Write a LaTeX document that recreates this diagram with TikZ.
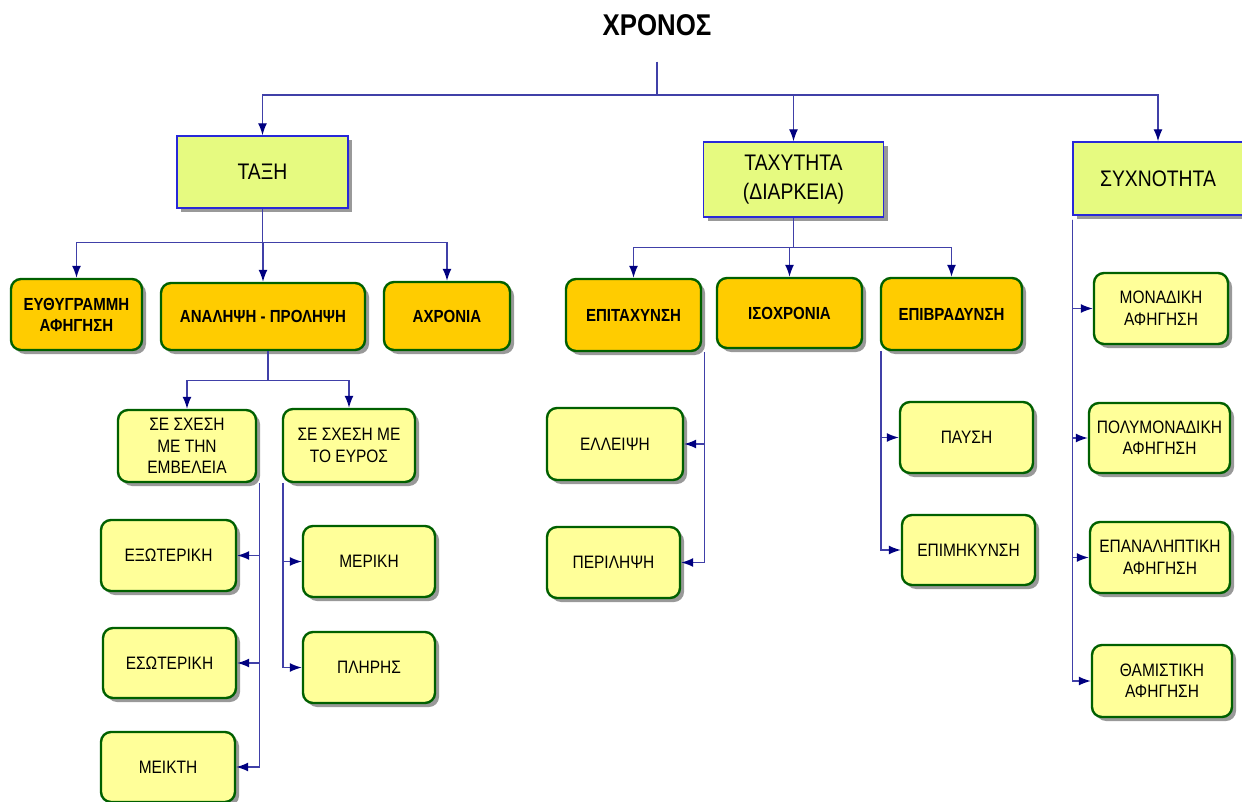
\documentclass[tikz,border=0pt]{standalone}
\usepackage{fontspec}
\setmainfont{Liberation Sans}[FakeStretch=0.86]
\usetikzlibrary{arrows.meta,shadows}
\definecolor{lineblue}{RGB}{64,64,168}
\definecolor{arrnavy}{RGB}{0,0,128}
\definecolor{limefill}{RGB}{230,250,128}
\definecolor{bordblue}{RGB}{40,40,216}
\definecolor{orangef}{RGB}{255,204,0}
\definecolor{dgreen}{RGB}{0,96,0}
\definecolor{yellf}{RGB}{255,255,153}
\tikzset{
  conn/.style={draw=lineblue, line width=1.4pt, -{Latex[length=12pt,width=9pt,color=arrnavy]}},
  shad/.style={drop shadow={shadow xshift=4pt,shadow yshift=-4pt,fill=black!40,opacity=1}},
  mainbox/.style={draw=bordblue, line width=1.4pt, fill=limefill, shad, align=center,
     font=\fontsize{22.5}{29}\selectfont, inner sep=0pt},
  obox/.style={draw=dgreen, line width=2.4pt, fill=orangef, rounded corners=10pt, shad, align=center,
     font=\bfseries\fontsize{17.5}{21}\selectfont, inner sep=0pt},
  ybox/.style={draw=dgreen, line width=2.4pt, fill=yellf, rounded corners=10pt, shad, align=center,
     font=\fontsize{18}{21.5}\selectfont, inner sep=0pt},
  sz/.style 2 args={minimum width=#1pt, minimum height=#2pt}
}
\begin{document}
\begin{tikzpicture}[x=1pt,y=-1pt]
\fill[white] (0,0) rectangle (1242,802);
\useasboundingbox (0,0) rectangle (1242,802);

\node[font=\bfseries\fontsize{30}{34}\selectfont] (title) at (657,25) {ΧΡΟΝΟΣ};
\coordinate (tb) at (657,62);

% level 1
\node[mainbox, sz={171}{72}] (tax) at (262.5,172) {ΤΑΞΗ};
\node[mainbox, sz={180}{75}] (tach) at (793.5,179.5) {ΤΑΧΥΤΗΤΑ\\(ΔΙΑΡΚΕΙΑ)};
\node[mainbox, sz={170}{73}] (syx) at (1158,178.5) {ΣΥΧΝΟΤΗΤΑ};

% level 2 (orange)
\node[obox, sz={131}{71}] (euth) at (76.5,314.5) {ΕΥΘΥΓΡΑΜΜΗ\\ΑΦΗΓΗΣΗ};
\node[obox, sz={204}{67}] (anal) at (263,316.5) {ΑΝΑΛΗΨΗ - ΠΡΟΛΗΨΗ};
\node[obox, sz={126}{68}] (axr) at (447,316) {ΑΧΡΟΝΙΑ};
\node[obox, sz={135}{72}] (epit) at (633.5,315) {ΕΠΙΤΑΧΥΝΣΗ};
\node[obox, sz={145}{70}] (iso) at (789.5,313) {ΙΣΟΧΡΟΝΙΑ};
\node[obox, sz={141}{72}] (epib) at (951.5,314) {ΕΠΙΒΡΑΔΥΝΣΗ};

% level 3 (yellow)
\node[ybox, sz={138}{72}] (emb) at (187,446) {ΣΕ ΣΧΕΣΗ\\ΜΕ ΤΗΝ\\ΕΜΒΕΛΕΙΑ};
\node[ybox, sz={132}{73}] (eur) at (349,445.5) {ΣΕ ΣΧΕΣΗ ΜΕ\\ΤΟ ΕΥΡΟΣ};
\node[ybox, sz={135}{71}] (exo) at (168.5,555.5) {ΕΞΩΤΕΡΙΚΗ};
\node[ybox, sz={133}{70}] (eso) at (169.5,663) {ΕΣΩΤΕΡΙΚΗ};
\node[ybox, sz={134}{70}] (meik) at (168,767) {ΜΕΙΚΤΗ};
\node[ybox, sz={132}{71}] (mer) at (369,561.5) {ΜΕΡΙΚΗ};
\node[ybox, sz={132}{71}] (pli) at (369,667.5) {ΠΛΗΡΗΣ};
\node[ybox, sz={136}{72}] (ell) at (615,444) {ΕΛΛΕΙΨΗ};
\node[ybox, sz={133}{71}] (peri) at (613.5,562.5) {ΠΕΡΙΛΗΨΗ};
\node[ybox, sz={133}{71}] (pafs) at (966.5,437.5) {ΠΑΥΣΗ};
\node[ybox, sz={133}{70}] (epim) at (968.5,550) {ΕΠΙΜΗΚΥΝΣΗ};
\node[ybox, sz={134}{71}] (mon) at (1161,308.5) {ΜΟΝΑΔΙΚΗ\\ΑΦΗΓΗΣΗ};
\node[ybox, sz={141}{70}] (poly) at (1159.5,438) {ΠΟΛΥΜΟΝΑΔΙΚΗ\\ΑΦΗΓΗΣΗ};
\node[ybox, sz={140}{71}] (epan) at (1160,557.5) {ΕΠΑΝΑΛΗΠΤΙΚΗ\\ΑΦΗΓΗΣΗ};
\node[ybox, sz={140}{72}] (tham) at (1162,681) {ΘΑΜΙΣΤΙΚΗ\\ΑΦΗΓΗΣΗ};

% connectors: top
\draw[conn] (tb) -- ++(0,33) -| (tax.north);
\draw[conn] (tb) -- ++(0,33) -| (tach.north);
\draw[conn] (tb) -- ++(0,33) -| (syx.north);

% ΤΑΞΗ
\draw[conn] (tax.south) -- ++(0,34) -| (euth.north);
\draw[conn] (tax.south) -- ++(0,34) -| (anal.north);
\draw[conn] (tax.south) -- ++(0,34) -| (axr.north);

% ΤΑΧΥΤΗΤΑ
\draw[conn] (tach.south) -- ++(0,30) -| (epit.north);
\draw[conn] (tach.south) -- ++(0,30) -| (iso.north);
\draw[conn] (tach.south) -- ++(0,30) -| (epib.north);

% ΑΝΑΛΗΨΗ
\draw[conn] ([xshift=5pt]anal.south) -- ++(0,29) -| (emb.north);
\draw[conn] ([xshift=5pt]anal.south) -- ++(0,29) -| (eur.north);

% ΕΜΒΕΛΕΙΑ spine
\draw[conn] ([xshift=2pt]emb.south east) |- (exo.east);
\draw[conn] ([xshift=2pt]emb.south east) |- (eso.east);
\draw[conn] ([xshift=2pt]emb.south east) |- (meik.east);

% ΕΥΡΟΣ spine
\draw[conn] ([xshift=1pt]eur.south west) |- (mer.west);
\draw[conn] ([xshift=1pt]eur.south west) |- (pli.west);

% ΕΠΙΤΑΧΥΝΣΗ spine
\draw[conn] ([xshift=2pt]epit.south east) |- (ell.east);
\draw[conn] ([xshift=2pt]epit.south east) |- (peri.east);

% ΕΠΙΒΡΑΔΥΝΣΗ spine
\draw[conn] ([xshift=1pt]epib.south west) |- (pafs.west);
\draw[conn] ([xshift=1pt]epib.south west) |- (epim.west);

% ΣΥΧΝΟΤΗΤΑ spine
\draw[conn] ([yshift=-4pt]syx.south west) |- (mon.west);
\draw[conn] ([yshift=-4pt]syx.south west) |- (poly.west);
\draw[conn] ([yshift=-4pt]syx.south west) |- (epan.west);
\draw[conn] ([yshift=-4pt]syx.south west) |- (tham.west);
\end{tikzpicture}
\end{document}
